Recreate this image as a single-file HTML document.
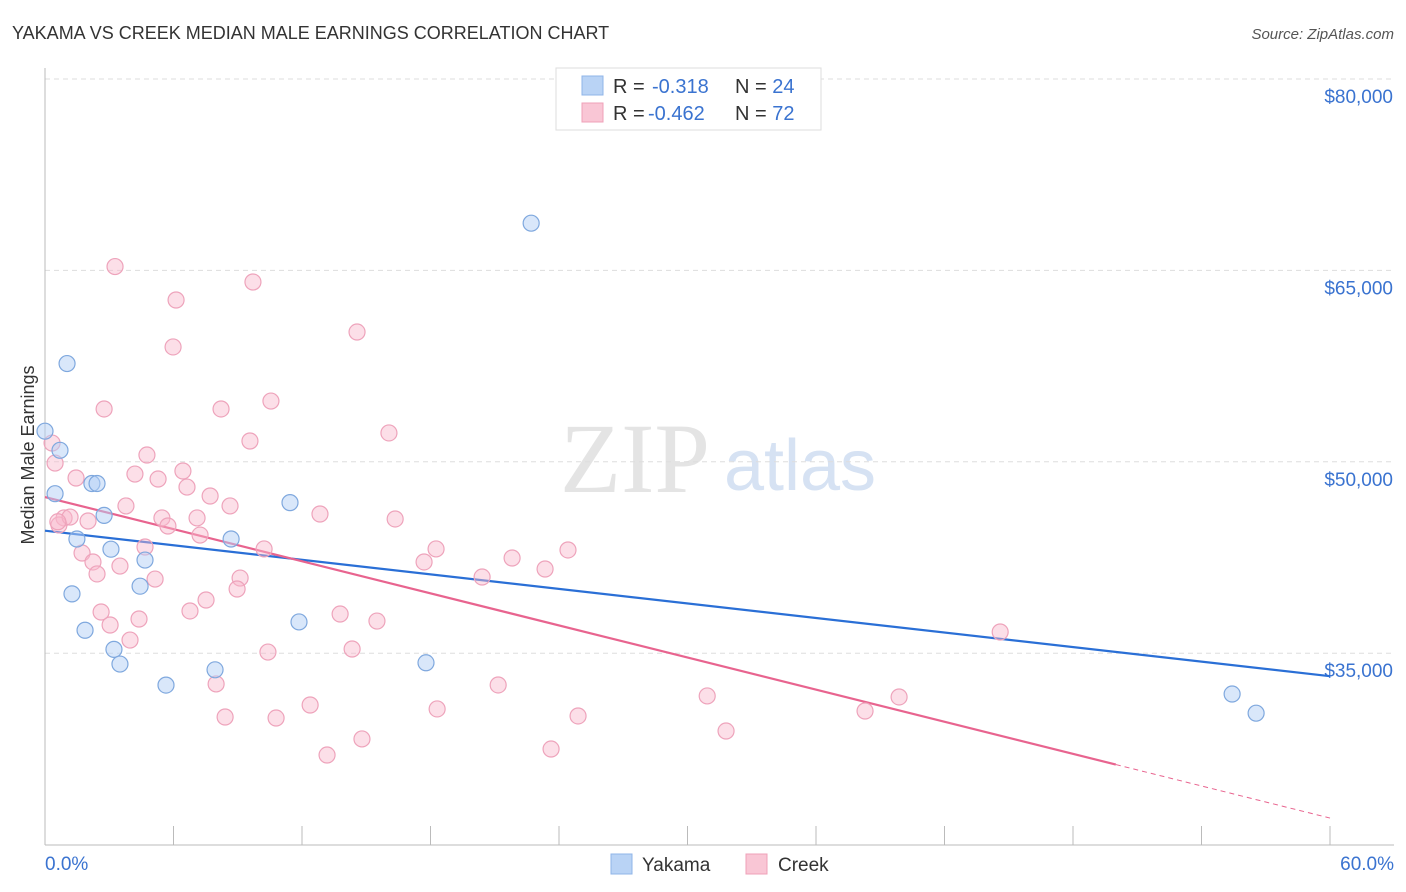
<!DOCTYPE html>
<html><head><meta charset="utf-8"><style>
body{margin:0;background:#fff;font-family:"Liberation Sans",sans-serif;}
svg{display:block}
</style></head><body>
<svg id="chart" width="1406" height="892" xmlns="http://www.w3.org/2000/svg">
<text x="12" y="39" font-size="18" fill="#333">YAKAMA VS CREEK MEDIAN MALE EARNINGS CORRELATION CHART</text>
<text x="1394" y="39" font-size="15" fill="#555" text-anchor="end" font-style="italic">Source: ZipAtlas.com</text>
<text x="635" y="492" font-size="100" fill="#e4e4e4" text-anchor="middle" font-family="Liberation Serif">ZIP</text>
<text x="800" y="490" font-size="72" fill="#d6e2f3" text-anchor="middle">atlas</text>
<text transform="translate(34,455) rotate(-90)" font-size="18" fill="#333" text-anchor="middle">Median Male Earnings</text>
<g id="grid"></g><g id="axes"></g><g id="trend"></g><g id="pts"></g>
<g>
<rect x="556" y="68" width="265" height="62" fill="#fff" stroke="#ddd"/>
<rect x="582" y="76" width="21" height="19" fill="#b9d3f5" stroke="#8fb4e8"/>
<rect x="582" y="103" width="21" height="19" fill="#f9c6d5" stroke="#efa0b8"/>
<text x="613" y="93" font-size="20" fill="#333">R = <tspan fill="#3a73d0" x="652">-0.318</tspan><tspan x="735" fill="#333">N = </tspan><tspan fill="#3a73d0">24</tspan></text>
<text x="613" y="120" font-size="20" fill="#333">R = <tspan fill="#3a73d0" x="648">-0.462</tspan><tspan x="735" fill="#333">N = </tspan><tspan fill="#3a73d0">72</tspan></text>
</g>
<g>
<rect x="611" y="854" width="21" height="20" fill="#b9d3f5" stroke="#8fb4e8"/>
<text x="642" y="871" font-size="19" fill="#333">Yakama</text>
<rect x="746" y="854" width="21" height="20" fill="#f9c6d5" stroke="#efa0b8"/>
<text x="778" y="871" font-size="19" fill="#333">Creek</text>
</g>
</svg>
<script>
const yTicks=[35000,50000,65000,80000];
const yTickLabels=["$35,000","$50,000","$65,000","$80,000"];
const xTicks=[0,6,12,18,24,30,36,42,48,54,60];
const blueX=[0,0.70,1.03,0.47,2.19,2.43,2.76,1.49,3.08,1.26,1.87,3.22,3.50,4.44,4.67,5.65,7.94,8.69,11.44,11.86,17.79,22.70,55.43,56.55];
const blueY=[52400,50900,57700,47500,48300,48300,45800,43950,43150,39650,36800,35300,34150,40250,42300,32500,33700,43950,46800,37450,34250,68700,31800,30300];
const pinkX=[3.27,6.12,9.71,5.98,14.57,2.76,8.22,10.55,16.06,9.57,4.76,0.33,0.47,1.45,4.20,5.28,6.44,6.63,7.71,3.78,8.64,0.89,0.65,1.17,2.01,5.46,5.74,7.10,12.84,16.35,7.24,4.67,10.23,18.26,24.42,1.73,2.24,3.50,21.81,23.35,17.70,2.43,5.14,9.11,20.41,8.97,7.52,2.62,4.39,6.77,13.78,15.50,3.04,3.97,10.41,14.34,44.60,7.99,21.16,30.92,39.88,12.38,18.31,8.41,10.79,24.89,38.29,31.80,14.80,23.63,13.17,0.60];
const pinkY=[65300,62680,64090,59000,60170,54140,54140,54760,52260,51630,50530,51470,49900,48730,49040,48650,49280,48020,47320,46540,46540,45600,45050,45670,45360,45600,44970,45600,45910,45520,44260,43320,43170,43170,43090,42850,42150,41830,42460,41600,42150,41210,40810,40890,40970,40030,39170,38230,37680,38310,38070,37520,37210,36030,35090,35330,36660,32590,32510,31650,31570,30940,30630,30000,29920,30080,30470,28900,28280,27490,27020,45300];
const blueTrend=[44600,33200];
const pinkTrend=[47240,22080];
const pinkSolidEnd=50;
const NS="http://www.w3.org/2000/svg";
const X=v=>45+v/60*1285;
const Y=v=>79+(80000-v)/1000*12.76;
function mk(tag,attrs,parent){const e=document.createElementNS(NS,tag);for(const k in attrs)e.setAttribute(k,attrs[k]);document.getElementById(parent).appendChild(e);return e;}
yTicks.forEach((t,i)=>{
 const l=mk('line',{x1:45,x2:1394,y1:Y(t),y2:Y(t),stroke:'#ddd','stroke-dasharray':'5,4'},'grid');
 
 
 const tx=mk('text',{x:1393,y:Y(t)+24,'font-size':19,fill:'#3a73d0','text-anchor':'end'},'grid');
 tx.textContent=yTickLabels[i];
 
 
});
const ax=mk('line',{x1:45,x2:45,y1:68,y2:845,stroke:'#bbb'},'axes');


const bx=mk('line',{x1:45,x2:1394,y1:845,y2:845,stroke:'#bbb'},'axes');


xTicks.forEach(t=>{const l=mk('line',{x1:X(t),x2:X(t),y1:826,y2:845,stroke:'#bbb'},'axes');
 
 });
const xl=mk('text',{x:45,y:870,'font-size':19,fill:'#3a73d0'},'axes');xl.textContent='0.0%';


const xr=mk('text',{x:1394,y:870,'font-size':19,fill:'#3a73d0','text-anchor':'end'},'axes');xr.textContent='60.0%';


pinkX.forEach((x,i)=>{const c=mk('circle',{cx:X(x),cy:Y(pinkY[i]),r:8,fill:'rgba(248,185,205,0.45)',stroke:'#eea3bb','stroke-width':1.2},'pts');
 
 });
blueX.forEach((x,i)=>{const c=mk('circle',{cx:X(x),cy:Y(blueY[i]),r:8,fill:'rgba(180,208,245,0.5)',stroke:'#7fa8de','stroke-width':1.2},'pts');
 
 });
const bt=mk('line',{x1:X(0),y1:Y(blueTrend[0]),x2:X(60),y2:Y(blueTrend[1]),stroke:'#2a6fd6','stroke-width':2.2},'trend');


const pm=pinkTrend[0]+(pinkTrend[1]-pinkTrend[0])*pinkSolidEnd/60;
const pt=mk('line',{x1:X(0),y1:Y(pinkTrend[0]),x2:X(pinkSolidEnd),y2:Y(pm),stroke:'#e8648f','stroke-width':2.2},'trend');


const pd=mk('line',{x1:X(pinkSolidEnd),y1:Y(pm),x2:X(60),y2:Y(pinkTrend[1]),stroke:'#e8648f','stroke-width':1,'stroke-dasharray':'5,4'},'trend');


</script>
</body></html>
